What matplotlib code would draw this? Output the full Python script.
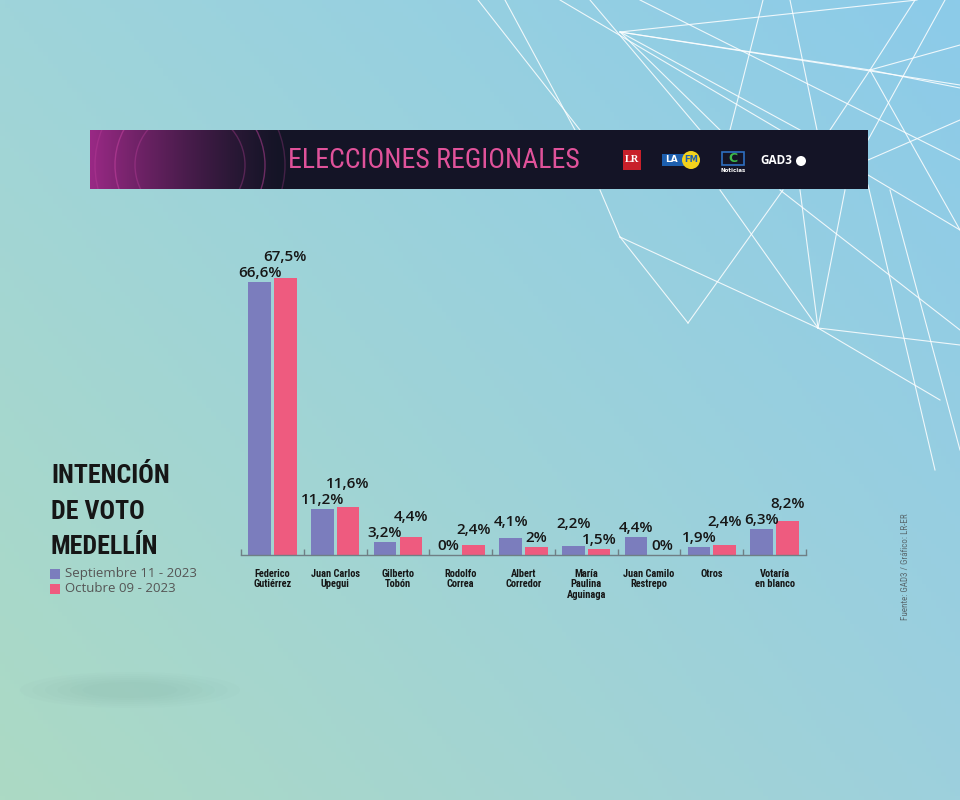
import numpy as np
import matplotlib
matplotlib.use("Agg")
import matplotlib.pyplot as plt
from matplotlib.patches import Rectangle, Circle, Ellipse

# data
candidatos = ["Federico\nGutiérrez", "Juan Carlos\nUpegui", "Gilberto\nTobón", "Rodolfo\nCorrea",
              "Albert\nCorredor", "María\nPaulina\nAguinaga", "Juan Camilo\nRestrepo", "Otros",
              "Votaría\nen blanco"]
septiembre = [66.6, 11.2, 3.2, 0.0, 4.1, 2.2, 4.4, 1.9, 6.3]
octubre = [67.5, 11.6, 4.4, 2.4, 2.0, 1.5, 0.0, 2.4, 8.2]
series_names = ["Septiembre 11 - 2023", "Octubre 09 - 2023"]
titulo = ["INTENCIÓN", "DE VOTO", "MEDELLÍN"]

c_sep = "#7b7dbd"
c_oct = "#ee5b7f"
c_txt = "#161616"
narrow = ["Liberation Sans Narrow", "DejaVu Sans Condensed", "Roboto Condensed",
          "Open Sans Condensed", "DejaVu Sans"]
sans = ["Open Sans", "DejaVu Sans"]

W, H = 960, 800
fig = plt.figure(figsize=(W / 100, H / 100), dpi=100)
renderer = fig.canvas.get_renderer()


def fit_width(t, target):
    # shrink/grow a text so its drawn width matches the reference
    w = t.get_window_extent(renderer).width
    t.set_fontsize(t.get_fontsize() * target / w)


# background gradient
bg = fig.add_axes([0, 0, 1, 1], zorder=0)
bg.axis("off")
tl, tr = np.array([0x9f, 0xd4, 0xda]) / 255, np.array([0x8c, 0xcb, 0xe9]) / 255
bl, br = np.array([0xac, 0xda, 0xc4]) / 255, np.array([0x9d, 0xd0, 0xdd]) / 255
u = np.linspace(0, 1, 200)[None, :, None]
v = np.linspace(0, 1, 200)[:, None, None]
grad = (1 - v) * ((1 - u) * tl + u * tr) + v * ((1 - u) * bl + u * br)
bg.imshow(grad, extent=[0, W, H, 0], aspect="auto")
bg.set_xlim(0, W)
bg.set_ylim(H, 0)

# decoration layer in pixel coordinates
deco = fig.add_axes([0, 0, 1, 1], zorder=1)
deco.set_xlim(0, W)
deco.set_ylim(H, 0)
deco.axis("off")

net = [((478, 0), (580, 130)), ((505, 0), (575, 130)), ((560, 0), (780, 130)),
       ((590, 0), (700, 130)), ((620, 32), (870, 70)), ((620, 32), (960, 85)),
       ((620, 32), (800, 130)), ((620, 32), (720, 130)), ((620, 32), (917, 0)),
       ((763, 0), (730, 130)), ((790, 0), (817, 130)), ((870, 70), (830, 130)),
       ((870, 70), (960, 45)), ((870, 70), (960, 88)), ((870, 70), (960, 230)),
       ((915, 0), (870, 70)), ((600, 190), (620, 237)), ((620, 237), (688, 323)),
       ((620, 237), (818, 328)), ((688, 323), (783, 190)), ((818, 328), (800, 190)),
       ((818, 328), (845, 190)), ((818, 328), (960, 345)), ((818, 328), (940, 400)),
       ((720, 190), (818, 328)), ((780, 190), (960, 330)), ((868, 160), (960, 120)),
       ((868, 175), (960, 230)), ((868, 185), (935, 470)), ((890, 190), (960, 450)),
       ((640, 0), (960, 160)), ((945, 0), (868, 140))]
for (x0, y0), (x1, y1) in net:
    deco.plot([x0, x1], [y0, y1], color="white", lw=0.8, alpha=0.85)

# soft shadow bottom left
for k in range(6):
    deco.add_patch(Ellipse((130, 690), 220 - 25 * k, 36 - 4 * k, color="#7f9f9a", alpha=0.035, lw=0))

# banner
bx0, by0, bx1, by1 = 90, 130, 868, 189
xs = np.linspace(0, 1, 400)[None, :, None]
wgt = np.clip(1 - xs * 778 / 190, 0, 1) ** 1.3
navy = np.array([0.08, 0.08, 0.15])
mag = np.array([0.60, 0.16, 0.52])
ban = navy * (1 - wgt) + mag * wgt
ban = np.repeat(ban, 20, axis=0)
deco.imshow(ban, extent=[bx0, bx1, by1, by0], aspect="auto", zorder=3)
clip = Rectangle((bx0, by0), bx1 - bx0, by1 - by0, transform=deco.transData, fc="none", ec="none")
deco.add_patch(clip)
for r, a in [(75, 0.45), (55, 0.3), (95, 0.25)]:
    ring = Circle((190, 165), r, fc="none", ec="#d048a8", lw=1, alpha=a, zorder=4)
    deco.add_patch(ring)
    ring.set_clip_path(clip)
bt = deco.text(434, 161, "ELECCIONES REGIONALES", color="#e0529a", fontsize=24, family=narrow,
               ha="center", va="center", zorder=5)
fit_width(bt, 292)

# logos
deco.add_patch(Rectangle((623, 150), 18, 20, fc="#c8202a", zorder=5))
deco.text(632, 159, "LR", color="white", fontsize=7.5, family="Liberation Serif", weight="bold",
          ha="center", va="center", zorder=6)
deco.add_patch(Rectangle((662, 154), 22, 12, fc="#1d5fae", zorder=5))
deco.text(672, 160, "LA", color="white", fontsize=6.5, weight="bold", ha="center", va="center", zorder=6)
deco.add_patch(Circle((691, 160), 9, fc="#f3d21c", zorder=5))
deco.text(691, 160, "FM", color="#1d5fae", fontsize=6, weight="bold", ha="center", va="center", zorder=6)
deco.add_patch(Rectangle((722, 152), 22, 13, fc="none", ec="#2e6fc0", lw=1.2, zorder=5))
deco.text(733, 158, "C", color="#3dbb4a", fontsize=9, weight="bold", ha="center", va="center", zorder=6)
deco.text(733, 171, "Noticias", color="white", fontsize=4, weight="bold", ha="center", va="center", zorder=6)
deco.text(776, 161, "GAD3", color="white", fontsize=8.5, weight="bold", family=sans, ha="center",
          va="center", zorder=6)
deco.add_patch(Circle((801, 161), 5, fc="white", zorder=5))

# title, legend, source
tt = deco.text(51, 476, titulo[0], color=c_txt, fontsize=22, weight="bold", family=narrow,
               ha="left", va="center")
fit_width(tt, 118)
for line, y in zip(titulo[1:], [512, 547]):
    deco.text(51, y, line, color=c_txt, fontsize=tt.get_fontsize(), weight="bold", family=narrow,
              ha="left", va="center")
for k, (name, col) in enumerate(zip(series_names, [c_sep, c_oct])):
    y = 574 + 15 * k
    deco.add_patch(Rectangle((50, y - 5), 10, 10, fc=col, ec="none"))
    deco.text(65, y, name, color="#555555", fontsize=9.5, family=sans, ha="left", va="center")
deco.text(906, 567, "Fuente: GAD3 / Gráfico: LR-ER", color="#5a6a70", fontsize=6.5, family=narrow,
          rotation=90, ha="center", va="center")

# chart
ymax = 70
ax = fig.add_axes([241 / W, 1 - 555 / H, 565 / W, 287 / H], zorder=2)
ax.patch.set_alpha(0)
x = np.arange(len(candidatos))
bw = 0.36
off = 0.205
ax.bar(x - off, septiembre, bw, color=c_sep, zorder=2)
ax.bar(x + off, octubre, bw, color=c_oct, zorder=2)
ax.set_xlim(-0.5, len(candidatos) - 0.5)
ax.set_ylim(0, ymax)
for s in ["top", "right", "left"]:
    ax.spines[s].set_visible(False)
ax.spines["bottom"].set_color("#6f7f85")
ax.spines["bottom"].set_linewidth(1)
ax.set_yticks([])
ax.set_xticks(np.arange(len(candidatos) + 1) - 0.5)
ax.set_xticklabels([])
ax.tick_params(axis="x", which="major", direction="in", length=4, color="#6f7f85", width=1)
ax.set_xticks(x, minor=True)
ax.set_xticklabels(candidatos, minor=True, fontsize=7.5, weight="bold", family=narrow, color=c_txt,
                   va="top", linespacing=1.05)
ax.tick_params(axis="x", which="minor", length=0, pad=10)

pt_per_unit = (287 / ymax) * 72 / 100
base, gap = 1.5, 11.5


def fmt(v):
    s = ("%.1f" % v).rstrip("0").rstrip(".")
    return s.replace(".", ",") + "%"


for i in range(len(candidatos)):
    vals = [(septiembre[i], x[i] - off), (octubre[i], x[i] + off)]
    lo, hi = sorted(vals, key=lambda t: t[0])
    hi_off = max(base, base + gap - (hi[0] - lo[0]) * pt_per_unit)
    for (v, xp), o in [(lo, base), (hi, hi_off)]:
        ax.annotate(fmt(v), (xp, v), xytext=(0, o), textcoords="offset points", ha="center",
                    va="bottom", fontsize=11, weight="semibold", family=sans, color=c_txt,
                    annotation_clip=False)

fig.savefig("out.png", dpi=100)
